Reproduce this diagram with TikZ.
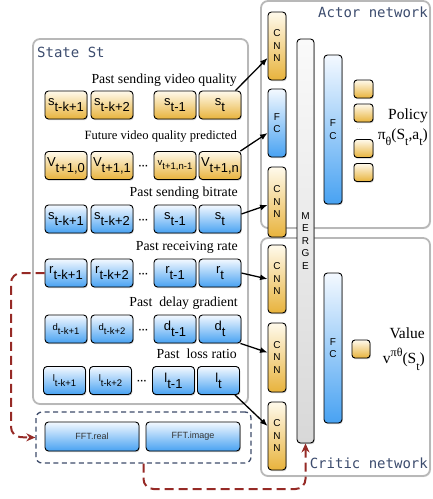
\documentclass[tikz,border=0pt]{standalone}
\usepackage{fontspec}
\setmainfont{Liberation Serif}
\setsansfont{Liberation Sans}
\setmonofont{DejaVu Sans Mono}
\usetikzlibrary{shadows,arrows.meta}
\definecolor{yTop}{HTML}{FFFAEC}
\definecolor{yBot}{HTML}{E8B33C}
\definecolor{bTop}{HTML}{F4F9FF}
\definecolor{bBot}{HTML}{48A2F2}
\definecolor{gTop}{HTML}{FAFAFA}
\definecolor{gBot}{HTML}{D8D8D8}
\definecolor{panelC}{HTML}{B8B8B8}
\definecolor{titleC}{HTML}{3C4C6E}
\definecolor{darkred}{HTML}{962A26}
\definecolor{fftC}{HTML}{3E4C6A}
\newcommand{\cellt}[3]{{\fontsize{#3}{#3}\selectfont #1\raisebox{-0.45em}{#2}}}
\newcommand{\lowsub}[1]{\raisebox{-0.4em}{\fontsize{12}{12}\selectfont #1}}
\tikzset{
  cell/.style={draw=black, line width=0.9pt, rounded corners=3.5pt, minimum width=42pt, minimum height=28pt, inner sep=0pt, font=\sffamily, drop shadow={shadow xshift=0.8pt, shadow yshift=-1.2pt, opacity=0.4}},
  ycell/.style={cell, top color=yTop, bottom color=yBot},
  bcell/.style={cell, top color=bTop, bottom color=bBot},
  panel/.style={draw=panelC, line width=1.8pt, rounded corners=7pt, fill=white, drop shadow={shadow xshift=1pt, shadow yshift=-1pt, opacity=0.2}},
  lbl/.style={font=\fontsize{13.8}{14}\selectfont, anchor=east, inner sep=0pt},
  ptitle/.style={font=\ttfamily\fontsize{14}{14}\selectfont, text=titleC, inner sep=0pt},
  layer/.style={draw=black, line width=0.9pt, rounded corners=3.5pt, inner sep=0pt, minimum width=18pt, font=\sffamily\fontsize{10}{12.5}\selectfont, align=center, drop shadow={shadow xshift=0.8pt, shadow yshift=-1.2pt, opacity=0.4}},
  ylayer/.style={layer, top color=yTop, bottom color=yBot},
  blayer/.style={layer, top color=bTop, bottom color=bBot},
  glayer/.style={layer, top color=gTop, bottom color=gBot},
  outsq/.style={draw=black, line width=0.9pt, rounded corners=3pt, inner sep=0pt, minimum width=19pt, minimum height=18pt, top color=yTop, bottom color=yBot, drop shadow={shadow xshift=0.8pt, shadow yshift=-1.2pt, opacity=0.4}},
  dots/.style={font=\sffamily\bfseries\fontsize{10}{10}\selectfont, inner sep=0pt},
  arr/.style={-{Latex[length=7.5pt,width=6pt]}, line width=1.3pt},
  rarr/.style={draw=darkred, line width=2pt, dash pattern=on 9pt off 5pt, rounded corners=10pt, -{Stealth[length=9pt,width=8pt,fill=darkred]}},
  fftframe/.style={draw=fftC, line width=1.3pt, dash pattern=on 5pt off 3.5pt, rounded corners=6pt, inner sep=0pt}
}
\begin{document}
\begin{tikzpicture}[x=1pt,y=-1pt]
\useasboundingbox (0,0) rectangle (432,499);
% panels
\draw[panel] (33,39) rectangle (248,404);
\draw[panel] (261,1) rectangle (430,228);
\draw[panel] (261,238) rectangle (430,476);
\node[ptitle, anchor=west] (tstate) at (37,52) {State St};
\node[ptitle, anchor=east] (tactor) at (428,12) {Actor network};
\node[ptitle, anchor=east] (tcritic) at (428,463) {Critic network};
% FFT
\node[fftframe, minimum width=215pt, minimum height=51pt] (fft) at (143.5,437.5) {};
\node[bcell, minimum width=94pt, minimum height=29pt, font=\sffamily\fontsize{9}{9}\selectfont, text=black!80] (fftr) at (92,436.5) {FFT.real};
\node[bcell, minimum width=94pt, minimum height=29pt, font=\sffamily\fontsize{9}{9}\selectfont, text=black!80] (ffti) at (193,436.5) {FFT.image};
% row labels
\node[lbl] (l1) at (237,80) {Past sending video quality};
\node[lbl, font=\fontsize{12.6}{13}\selectfont] (l2) at (237,136) {Future video quality predicted};
\node[lbl] (l3) at (238,193) {Past sending bitrate};
\node[lbl] (l4) at (238,247) {Past receiving rate};
\node[lbl] (l5) at (238,303) {Past\ \ delay gradient};
\node[lbl] (l6) at (237,354) {Past\ \ loss ratio};
% row 1
\node[ycell] (r1a) at (66,105) {\cellt{s}{t-k+1}{13}};
\node[ycell] (r1b) at (112,105) {\cellt{s}{t-k+2}{13}};
\node[ycell] (r1c) at (175,105) {\cellt{s}{t-1}{13}};
\node[ycell] (r1d) at (220,105) {\cellt{s}{t}{13}};
% row 2
\node[ycell] (r2a) at (66,165.5) {\cellt{V}{t+1,0}{13}};
\node[ycell] (r2b) at (112,165.5) {\cellt{V}{t+1,1}{13}};
\node[dots] (d2) at (143.5,167) {···};
\node[ycell] (r2c) at (175,165.5) {\cellt{v}{t+1,n-1}{9.5}};
\node[ycell] (r2d) at (220,165.5) {\cellt{V}{t+1,n}{13}};
% row 3
\node[bcell] (r3a) at (66,219) {\cellt{s}{t-k+1}{13}};
\node[bcell] (r3b) at (112,219) {\cellt{s}{t-k+2}{13}};
\node[dots] (d3) at (143.5,221) {···};
\node[bcell] (r3c) at (175,219) {\cellt{s}{t-1}{13}};
\node[bcell] (r3d) at (220,219) {\cellt{s}{t}{13}};
% row 4
\node[bcell] (r4a) at (66,273) {\cellt{r}{t-k+1}{13}};
\node[bcell] (r4b) at (112,273) {\cellt{r}{t-k+2}{13}};
\node[dots] (d4) at (143.5,275) {···};
\node[bcell] (r4c) at (175,273) {\cellt{r}{t-1}{13}};
\node[bcell] (r4d) at (220,273) {\cellt{r}{t}{13}};
% row 5
\node[bcell] (r5a) at (66,329) {\cellt{d}{t-k+1}{9.5}};
\node[bcell] (r5b) at (112,329) {\cellt{d}{t-k+2}{9.5}};
\node[dots] (d5) at (143.5,331) {···};
\node[bcell] (r5c) at (175,329) {\cellt{d}{t-1}{13}};
\node[bcell] (r5d) at (220,329) {\cellt{d}{t}{13}};
% row 6
\node[bcell] (r6a) at (64.5,380.5) {\cellt{l}{t-k+1}{9.5}};
\node[bcell] (r6b) at (110.5,380.5) {\cellt{l}{t-k+2}{9.5}};
\node[dots] (d6) at (142,382.5) {···};
\node[bcell] (r6c) at (173.5,380.5) {\cellt{l}{t-1}{13}};
\node[bcell] (r6d) at (218.5,380.5) {\cellt{l}{t}{13}};
% actor layers
\node[ylayer, minimum height=68pt] (acnn1) at (277,46) {C\\N\\N};
\node[blayer, minimum height=68pt] (afc1) at (277,123) {F\\C};
\node[ylayer, minimum height=70pt] (acnn2) at (277,202) {C\\N\\N};
% critic layers
\node[ylayer, minimum height=68pt] (ccnn1) at (277,279) {C\\N\\N};
\node[ylayer, minimum height=69pt] (ccnn2) at (277,357.5) {C\\N\\N};
\node[ylayer, minimum height=68pt] (ccnn3) at (277,436) {C\\N\\N};
% merge
\node[glayer, minimum width=17pt, minimum height=404pt] (merge) at (305.5,241) {M\\E\\R\\G\\E};
% FC
\node[blayer, minimum height=149pt] (afc2) at (333,129.5) {F\\C};
\node[blayer, minimum height=150pt] (cfc) at (333,348) {F\\C};
% outputs
\node[outsq] (o1) at (363.5,89) {};
\node[outsq] (o2) at (363.5,113) {};
\node[outsq] (o3) at (363.5,148.5) {};
\node[outsq] (o4) at (363.5,172.5) {};
\node[font=\sffamily\fontsize{6}{6}\selectfont, text=black!35, inner sep=0pt] (odots) at (359.5,130) {···};
\node[outsq, minimum width=18pt] (val) at (361,349) {};
\node[lbl, font=\fontsize{15.5}{16}\selectfont] (tpol) at (428,116) {Policy};
\node[lbl, font=\fontsize{15.5}{16}\selectfont] (tpi) at (428,137) {π\lowsub{θ}(S\lowsub{t},a\lowsub{t})};
\node[lbl, font=\fontsize{15.5}{16}\selectfont] (tval) at (425,333) {Value};
\node[lbl, font=\fontsize{15.5}{16}\selectfont] (tv) at (425,359) {v\raisebox{0.5em}{\fontsize{12}{12}\selectfont πθ}(S\lowsub{t})};
% black arrows
\draw[arr] ([xshift=-6pt]r1d.north east) -- ([yshift=-12pt]acnn1.west);
\draw[arr] ([xshift=-1pt]r2d.north east) -- ([yshift=-10pt]afc1.west);
\draw[arr] ([yshift=5pt]r3d.east) -- ([yshift=-3pt]acnn2.west);
\draw[arr] (r4d.east) -- (ccnn1.west);
\draw[arr] ([xshift=-1pt]r5d.south east) -- ([yshift=5pt]ccnn2.west);
\draw[arr] ([xshift=-5pt]r6d.south east) -- ([yshift=10pt]ccnn3.west);
% red dashed arrows
\draw[rarr] (r4a.west) -- (11,273) -- (11,437) -- (fft.west);
\draw[rarr] (fft.south) -- (143.5,489) -- (305.5,489) -- (merge.south);
\end{tikzpicture}
\end{document}
